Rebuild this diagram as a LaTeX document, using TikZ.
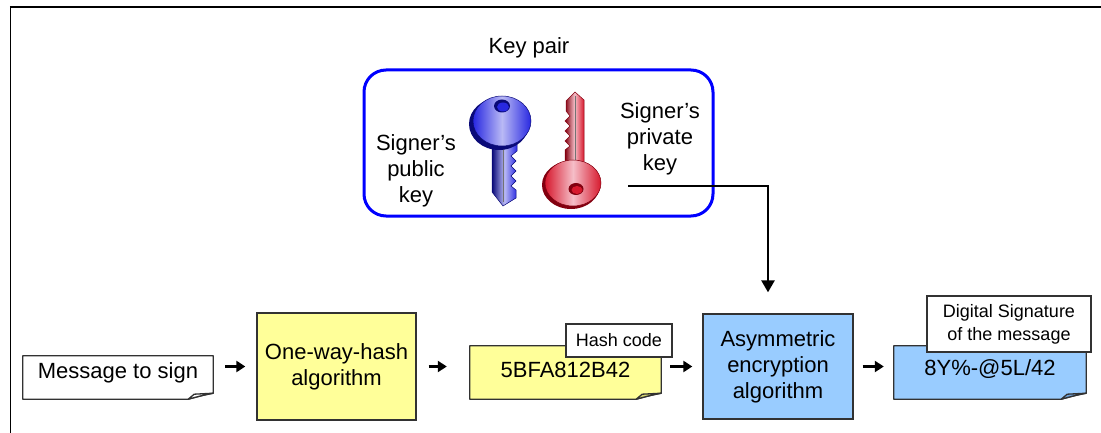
\documentclass[tikz,border=0pt]{standalone}
\usepackage{fontspec}
\setmainfont{Liberation Sans}
\usetikzlibrary{arrows.meta,backgrounds,calc}

\definecolor{noteyellow}{RGB}{255,255,153}
\definecolor{flapyellow}{RGB}{214,214,110}
\definecolor{noteblue}{RGB}{153,204,255}
\definecolor{flapblue}{RGB}{110,160,215}
\definecolor{edgegray}{RGB}{50,50,50}
\definecolor{pairblue}{RGB}{0,0,255}
\definecolor{keyblue}{RGB}{40,40,225}
\definecolor{keybluedark}{RGB}{10,10,120}
\definecolor{keybluelight}{RGB}{185,185,245}
\definecolor{keyred}{RGB}{215,25,45}
\definecolor{keyreddark}{RGB}{130,0,15}
\definecolor{keyredlight}{RGB}{245,190,200}

% note sheet with a folded lower right corner, drawn behind node #1
\newcommand\foldnote[3]{%
  \filldraw[noteline, fill=#2]
    (#1.north west) -- (#1.north east) -- ([yshift=6pt]#1.south east)
    .. controls ([xshift=-10pt,yshift=4pt]#1.south east) .. ([xshift=-25pt]#1.south east)
    -- (#1.south west) -- cycle;
  \filldraw[noteline, fill=#3]
    ([xshift=-25pt]#1.south east) -- ([xshift=-19pt,yshift=5pt]#1.south east)
    -- ([yshift=6pt]#1.south east)
    .. controls ([xshift=-10pt,yshift=4pt]#1.south east) .. ([xshift=-25pt]#1.south east) -- cycle;
}

\begin{document}
\begin{tikzpicture}[x=1pt,y=-1pt,
  txt/.style={font=\fontsize{22}{26}\selectfont, align=center, inner sep=0pt},
  tagtxt/.style={font=\fontsize{18}{23}\selectfont, align=center, inner sep=0pt},
  procbox/.style={txt, draw=edgegray, line width=1.3pt},
  notetxt/.style={txt, text height=16pt, text depth=#1},
  noteline/.style={draw=edgegray, line width=1.3pt, line join=round},
  tagbox/.style={tagtxt, draw=edgegray, fill=white, line width=1.1pt},
  flowarrow/.style={line width=3pt, -{Triangle[length=9pt,width=11pt]}},
  keyline/.style={draw=black!70, line width=0.5pt}]

\useasboundingbox (0,0) rectangle (1101,433);

% frame lines
\draw[line width=1.5pt] (9.75,7) -- (1101,7);
\draw[line width=1.5pt] (10.5,6.25) -- (10.5,433);

% key pair
\node[txt] (pairlabel) at (529,48) {Key pair};
\node[draw=pairblue, line width=3pt, rounded corners=22pt,
      minimum width=349pt, minimum height=146pt] (pair) at (538.5,143) {};
\node[txt] (pubtxt) at (416,171) {Signer’s\\public\\key};
\node[txt] (privtxt) at (660,139) {Signer’s\\private\\key};

% public key (blue)
\shadedraw[keyline, draw=keybluedark, shading angle=90,
           left color=keybluedark, right color=keyblue, middle color=keybluelight]
  (492,140) -- (492,192) -- (503,206) -- (516,198) -- (516,190) -- (511,186)
  -- (516,181) -- (511,176) -- (516,171) -- (511,166) -- (516,161) -- (511,156)
  -- (517,151) -- (517,140) -- cycle;
\draw[black!55, line width=1pt] (503,148) -- (503,202);
\fill[keybluedark] (499,124) circle[x radius=30pt, y radius=26pt];
\shadedraw[keyline, draw=keybluedark, shading angle=135,
           left color=keyblue, right color=keyblue, middle color=keybluelight]
  (502,121) circle[x radius=29pt, y radius=25pt];
\fill[keybluedark] (502,106) circle[x radius=8pt, y radius=6.5pt];
\fill[keyblue] (503,107) circle[x radius=6pt, y radius=4.5pt];

% private key (red)
\shadedraw[keyline, draw=keyreddark, shading angle=90,
           left color=keyreddark, right color=keyred, middle color=keyredlight]
  (565,170) -- (565,150) -- (570,146) -- (565,141) -- (570,136) -- (565,131)
  -- (570,126) -- (565,121) -- (570,116) -- (566,111) -- (566,101) -- (575,92)
  -- (584,100) -- (584,170) -- cycle;
\draw[black!55, line width=1pt] (575,96) -- (575,165);
\fill[keyreddark] (571,185) circle[x radius=29pt, y radius=24pt];
\shadedraw[keyline, draw=keyreddark, shading angle=135,
           left color=keyred, right color=keyred, middle color=keyredlight]
  (573,183) circle[x radius=28pt, y radius=23pt];
\fill[keyreddark] (576,189) circle[x radius=7.5pt, y radius=6pt];
\fill[keyred] (577,190) circle[x radius=5.5pt, y radius=4pt];

% processing steps
\node[notetxt=15pt, minimum width=190pt, minimum height=43pt] (msg) at (118,377.5) {Message to sign};
\node[procbox, fill=noteyellow, minimum width=159pt, minimum height=107pt] (hashalg) at (336.5,366.5) {One-way-hash\\algorithm};
\node[notetxt=6pt, minimum width=191pt, minimum height=53pt] (hashnote) at (565.5,372.5) {5BFA812B42};
\node[procbox, fill=noteblue, minimum width=150pt, minimum height=105pt] (asym) at (778,366.5) {Asymmetric\\encryption\\algorithm};
\node[notetxt=10pt, minimum width=192pt, minimum height=53pt] (signote) at (990,372.5) {8Y\%-@5L/42};

\begin{scope}[on background layer]
  \foldnote{msg}{white}{white}
  \foldnote{hashnote}{noteyellow}{flapyellow}
  \foldnote{signote}{noteblue}{flapblue}
\end{scope}

\node[tagbox, minimum width=106pt, minimum height=33pt] (hashtag) at (619,340.5) {Hash code};
\node[tagbox, minimum width=164pt, minimum height=56pt] (sigtag) at (1009,324) {Digital Signature\\of the message};

% flow arrows
\draw[flowarrow, shorten <=12pt, shorten >=11pt] (msg.east |- hashalg.west) -- (hashalg.west);
\draw[flowarrow, shorten <=12pt, shorten >=23pt] (hashalg.east) -- (hashalg.east -| hashnote.west);
\draw[flowarrow, shorten <=9pt, shorten >=10pt] (hashnote.east |- asym.west) -- (asym.west);
\draw[flowarrow, shorten <=9pt, shorten >=10pt] (asym.east) -- (asym.east -| signote.west);

% private key feeds the encryption step
\coordinate (kstart) at (628,186);
\coordinate (kbend) at (768,186);
\draw[line width=1.2pt] (kstart) -- (kbend);
\draw[line width=2.6pt, -{Triangle[length=12pt,width=13pt]}, shorten >=21pt]
  ([yshift=0.6pt]kbend) -- ([xshift=-10pt]asym.north);
\end{tikzpicture}
\end{document}
